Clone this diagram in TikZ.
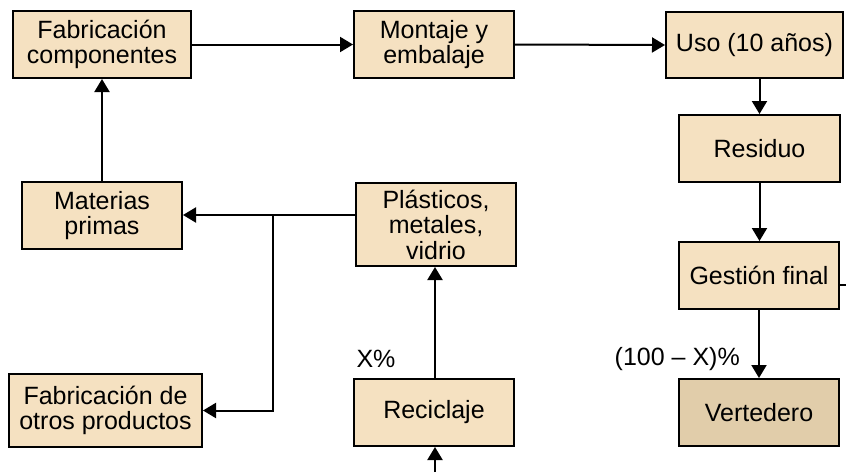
\documentclass[tikz,border=0pt]{standalone}
\usepackage{fontspec}
\setmainfont{Liberation Sans}
\usetikzlibrary{arrows.meta}
\definecolor{boxfill}{HTML}{F5E1C1}
\definecolor{dumpfill}{HTML}{E1CDAA}
\begin{document}
\begin{tikzpicture}[x=1pt,y=-1pt,
  stage/.style={draw=black,line width=2pt,fill=boxfill,inner sep=0pt,align=center,
    font=\fontsize{25}{25.5}\selectfont},
  arr/.style={line width=2pt,-{Triangle[length=13pt,width=15pt]}},
  plain/.style={line width=2pt},
  lbl/.style={font=\fontsize{25}{25.5}\selectfont,inner sep=0pt}]
\useasboundingbox (0,0) rectangle (846,472);

% process boxes
\node[stage,minimum width=178pt,minimum height=67pt] (fc) at (102,44.5) {Fabricación\\componentes};
\node[stage,minimum width=160pt,minimum height=67pt] (mont) at (434,44.5) {Montaje y\\embalaje};
\node[stage,minimum width=177pt,minimum height=66pt] (uso) at (754.5,45) {Uso (10 años)};
\node[stage,minimum width=161pt,minimum height=67pt] (res) at (759.5,148.5) {Residuo};
\node[stage,minimum width=160pt,minimum height=67pt] (gest) at (759,275.5) {Gestión final};
\node[stage,fill=dumpfill,minimum width=160pt,minimum height=67pt] (vert) at (759,412.5) {Vertedero};
\node[stage,minimum width=160pt,minimum height=67pt] (mp) at (102,215.5) {Materias\\primas};
\node[stage,minimum width=160pt,minimum height=83pt] (plas) at (436,224.5) {Plásticos,\\metales,\\vidrio};
\node[stage,minimum width=160pt,minimum height=67pt] (recic) at (434,412.5) {Reciclaje};
\node[stage,minimum width=193pt,minimum height=73pt] (fop) at (105.5,410.5) {Fabricación de\\otros productos};

% junction and free ends
\coordinate (j) at (273,215);
\coordinate (inlet) at (435,472);
\coordinate (outlet) at (846,285);

% connectors
\draw[arr] (fc.east) -- (mont.west);
\draw[arr] (mont.east) -- (uso.west);
\draw[arr] (res.north |- uso.south) -- (res.north);
\draw[arr] (res.south) -- (res.south |- gest.north);
\draw[arr] (gest.south) -- (vert.north);
\draw[plain] (gest.east |- outlet) -- (outlet);
\draw[arr] (mp.north) -- (fc.south);
\draw[arr] (plas.west |- j) -- (mp.east |- j);
\draw[arr] (j) -- (j |- fop.east) -- (fop.east);
\draw[arr] (inlet |- recic.north) -- (inlet |- plas.south);
\draw[arr] (inlet) -- (inlet |- recic.south);

% flow shares
\node[lbl] (xp) at (376,359) {X\%};
\node[lbl,anchor=east] (rest) at (740,359) {(100 – X)\%};
\end{tikzpicture}
\end{document}
